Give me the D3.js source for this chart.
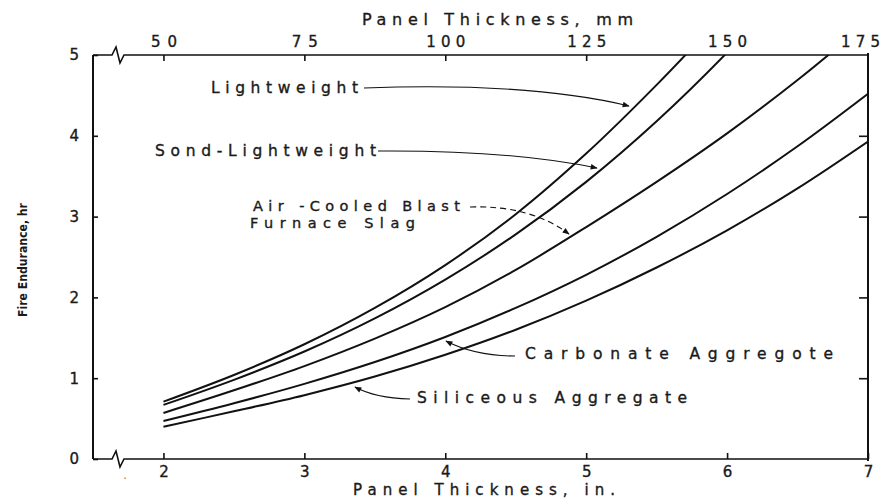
<!DOCTYPE html>
<html>
<head>
<meta charset="utf-8">
<script src="https://cdn.jsdelivr.net/npm/d3@7"></script>
<style>
  body { margin: 0; background: #fff; }
  text { font-family: "DejaVu Sans", "Liberation Sans", sans-serif; fill: #1a1a1a; stroke: #1a1a1a; stroke-width: 0.35px; }
</style>
</head>
<body>
<svg id="chart" width="882" height="498"></svg>
<script>
// thickness in inches, fire endurance in hours
const thickness = [2, 2.5, 3, 3.5, 4, 4.5, 5, 5.5, 6, 6.5, 7]
const lightweight = [0.71, 1.04, 1.42, 1.87, 2.40, 3.03, 3.78, 4.63, 5.55]
const sandLightweight = [0.67, 0.98, 1.33, 1.74, 2.22, 2.78, 3.43, 4.18, 5.03, 5.98]
const airCooledSlag = [0.57, 0.85, 1.15, 1.49, 1.88, 2.34, 2.87, 3.43, 4.03, 4.69, 5.41]
const carbonate = [0.47, 0.69, 0.93, 1.20, 1.51, 1.87, 2.28, 2.75, 3.28, 3.87, 4.52]
const siliceous = [0.40, 0.59, 0.79, 1.02, 1.29, 1.60, 1.96, 2.37, 2.83, 3.35, 3.93]

const inchTicks = [2, 3, 4, 5, 6, 7]
const mmTicks = [50, 75, 100, 125, 150, 175]
const hourTicks = [0, 1, 2, 3, 4, 5]

const svg = d3.select('#chart')

const x = d3.scaleLinear().domain([1.5, 7]).range([93, 868])
const xmm = d3.scaleLinear().domain([37.5, 175]).range([93, 868])
const y = d3.scaleLinear().domain([0, 5]).range([459, 55])

const L = x.range()[0], R = x.range()[1], T = y.range()[1], B = y.range()[0]

svg.append('clipPath').attr('id', 'plot')
  .append('rect').attr('x', L).attr('y', T).attr('width', R - L).attr('height', B - T)

// stretch each tick label to the width it has in the scan
function styleAxis(g, perChar) {
  g.select('.domain').remove()
  g.selectAll('.tick line').attr('stroke', '#111').attr('stroke-width', 1.6)
  g.selectAll('.tick text').style('font-size', '15px')
  if (perChar) {
    g.selectAll('.tick text').each(function() {
      const t = d3.select(this)
      if (t.text().length > 1) t.attr('textLength', t.text().length * perChar).attr('lengthAdjust', 'spacing')
    })
  }
}

svg.append('g').attr('transform', `translate(0,${B})`)
  .call(d3.axisBottom(x).tickValues(inchTicks).tickSize(-6).tickPadding(7).tickFormat(d3.format('d')))
  .call(styleAxis)

svg.append('g').attr('transform', `translate(0,${T})`)
  .call(d3.axisTop(xmm).tickValues(mmTicks.slice(0, 4)).tickSize(-6).tickPadding(8).tickFormat(d3.format('d')))
  .call(g => styleAxis(g, 13))
// 150 and 175 labels without tick marks
svg.append('g').attr('transform', `translate(0,${T})`)
  .call(d3.axisTop(xmm).tickValues(mmTicks.slice(4)).tickSize(0).tickPadding(8).tickFormat(d3.format('d')))
  .call(g => styleAxis(g, 13))
  .call(g => g.selectAll('.tick text').filter(d => d === 175).attr('dx', -8))

svg.append('g').attr('transform', `translate(${L},0)`)
  .call(d3.axisLeft(y).tickValues(hourTicks).tickSize(-5).tickPadding(14).tickFormat(d3.format('d')))
  .call(styleAxis)

svg.append('g').attr('transform', `translate(${R},0)`)
  .call(d3.axisRight(y).tickValues(hourTicks.slice(1, 5)).tickSize(-9).tickFormat(''))
  .call(styleAxis)

// frame with axis breaks on the left of top and bottom
const frame = svg.append('g').attr('fill', 'none').attr('stroke', '#111')
frame.append('path').attr('stroke-width', 2)
  .attr('d', `M${L},${T} V${B}`)
frame.append('path').attr('stroke-width', 2)
  .attr('d', `M${R},${T - 2} V${B + 2}`)
frame.append('path').attr('stroke-width', 1.6)
  .attr('d', `M${L},${B} H${L + 19} L${L + 23},${B - 8} L${L + 27},${B + 8} L${L + 31},${B} H${R}`)
frame.append('path').attr('stroke-width', 1.6)
  .attr('d', `M${L},${T} H${L + 19} L${L + 23},${T - 8} L${L + 27},${T + 8} L${L + 31},${T} H${R}`)

svg.append('text').attr('x', L + 32).attr('y', B + 20).attr('text-anchor', 'middle')
  .style('font-size', '13px').style('fill', '#c08040').style('stroke', 'none').text('.')

// curves
const series = [lightweight, sandLightweight, airCooledSlag, carbonate, siliceous]
const line = d3.line()
  .x((d, i) => x(thickness[i]))
  .y(d => y(d))
  .curve(d3.curveCatmullRom.alpha(0.5))

svg.append('g').attr('clip-path', 'url(#plot)')
  .selectAll('path').data(series).join('path')
  .attr('d', line)
  .attr('fill', 'none')
  .attr('stroke', '#111')
  .attr('stroke-width', 2)

// leader arrows
svg.append('defs').append('marker')
  .attr('id', 'arrow').attr('viewBox', '0 0 10 10').attr('refX', 9).attr('refY', 5)
  .attr('markerWidth', 9).attr('markerHeight', 7).attr('orient', 'auto-start-reverse')
  .attr('markerUnits', 'userSpaceOnUse')
  .append('path').attr('d', 'M0,1 L10,5 L0,9 Z').attr('fill', '#111')

const labels = [
  { text: 'Lightweight', x: 211, y: 93, w: 147, size: 15.5, from: [364, 88], to: [629, 106], c: [530, 82] },
  { text: 'Sond-Lightweight', x: 155, y: 156, w: 221, size: 15.5, from: [378, 151], to: [597, 168], c: [510, 150] },
  { text: 'Air  -Cooled Blast', x: 253, y: 211, w: 207, size: 14.5, from: [470, 207], to: [569, 234], c: [530, 205], dash: '6,4' },
  { text: 'Furnace Slag', x: 250, y: 228, w: 165, size: 14.5 },
  { text: 'Carbonate   Aggregote', x: 525, y: 359, w: 308, size: 15.5, from: [515, 356], to: [446, 341], c: [475, 356] },
  { text: 'Siliceous    Aggregate', x: 417, y: 403, w: 270, size: 15.5, from: [410, 399], to: [355, 387], c: [375, 398] }
]

labels.forEach(l => {
  svg.append('text').attr('x', l.x).attr('y', l.y)
    .attr('textLength', l.w).attr('lengthAdjust', 'spacing')
    .style('font-size', l.size + 'px')
    .text(l.text)
  if (!l.from) return
  svg.append('path')
    .attr('d', `M${l.from[0]},${l.from[1]} Q${l.c[0]},${l.c[1]} ${l.to[0]},${l.to[1]}`)
    .attr('fill', 'none').attr('stroke', '#111').attr('stroke-width', 1.1)
    .attr('stroke-dasharray', l.dash || null)
    .attr('marker-end', 'url(#arrow)')
})

// axis titles
svg.append('text').attr('x', 362).attr('y', 25)
  .attr('textLength', 271).attr('lengthAdjust', 'spacing')
  .style('font-size', '16px').text('Panel  Thickness,  mm')
svg.append('text').attr('x', 353).attr('y', 495)
  .attr('textLength', 262).attr('lengthAdjust', 'spacing')
  .style('font-size', '15px').text('Panel  Thickness,  in.')
svg.append('text').attr('transform', 'translate(27,317) rotate(-90)')
  .attr('textLength', 114).attr('lengthAdjust', 'spacingAndGlyphs')
  .style('font-size', '13px').style('font-weight', 'bold').style('stroke', 'none').text('Fire Endurance, hr')
</script>
</body>
</html>
